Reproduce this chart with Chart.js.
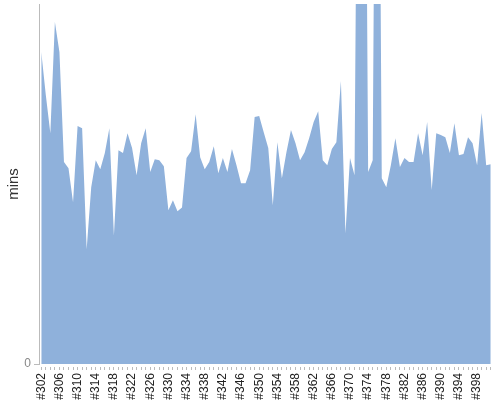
<!DOCTYPE html>
<html lang="en">
<head>
  <meta charset="UTF-8">
  <title>mins per build</title>
  <script src="https://cdn.jsdelivr.net/npm/chart.js"></script>
  <style>
    body { margin: 0; background: #fff; }
    #wrap { width: 500px; height: 400px; }
  </style>
</head>
<body>
  <div id="wrap"><canvas id="minsChart"></canvas></div>

  <script>
    // build numbers on the x axis
    const builds = [
      '#302','#303','#304','#305','#306','#307','#308','#309','#310','#311',
      '#312','#313','#314','#315','#316','#317','#318','#319','#320','#321',
      '#322','#323','#324','#325','#326','#327','#328','#329','#330','#331',
      '#332','#333','#334','#335','#336','#337','#338','#339','#340','#341',
      '#342','#343','#344','#345','#346','#347','#348','#349','#350','#351',
      '#352','#353','#354','#355','#356','#357','#358','#359','#360','#361',
      '#362','#363','#364','#365','#366','#367','#368','#369','#370','#371',
      '#372','#373','#374','#375','#376','#377','#378','#379','#380','#381',
      '#382','#383','#384','#385','#386','#387','#388','#389','#390','#391',
      '#392','#393','#394','#395','#396','#397','#398','#399','#400','#401'
    ];

    // duration of each build (axis tops out at yMax)
    const mins = [
      86.7, 74.7, 64.1, 95.0, 86.7, 56.1, 54.4, 44.9, 66.1, 65.5,
      31.9, 49.1, 56.6, 54.1, 58.6, 65.5, 35.7, 59.4, 58.6, 64.1,
      60.0, 52.4, 61.3, 65.5, 53.3, 56.9, 56.6, 54.9, 42.7, 45.5,
      42.4, 43.5, 57.2, 59.1, 69.4, 57.4, 54.1, 56.1, 60.5, 53.0,
      57.2, 53.3, 59.7, 55.2, 50.2, 50.2, 53.8, 68.6, 68.9, 64.4,
      60.0, 44.1, 61.6, 51.6, 58.8, 65.0, 61.3, 56.6, 58.8, 62.7,
      67.2, 70.2, 56.6, 55.2, 59.7, 61.6, 78.6, 36.3, 57.2, 52.4,
      229, 248.6, 53.3, 56.6, 251.4, 51.6, 49.1, 55.2, 62.7, 54.7,
      57.2, 56.1, 56.1, 64.1, 58.0, 67.2, 48.3, 64.1, 63.6, 63.0,
      58.6, 66.9, 58.0, 58.3, 63.0, 61.3, 55.2, 69.7, 55.2, 55.5
    ];

    const yTicks = [0];
    const yMax = 100;
    const labelEvery = 4;

    const ctx = document.getElementById('minsChart').getContext('2d');
    new Chart(ctx, {
      type: 'line',
      data: {
        labels: builds,
        datasets: [{
          data: mins,
          fill: 'origin',
          backgroundColor: '#8fb1db',
          borderColor: 'rgba(0,0,0,0)',
          borderWidth: 0,
          pointRadius: 0,
          tension: 0
        }]
      },
      options: {
        responsive: true,
        maintainAspectRatio: false,
        animation: false,
        layout: { padding: { top: 4, right: 7, bottom: 0, left: 0 } },
        plugins: {
          legend: { display: false },
          tooltip: { enabled: false }
        },
        scales: {
          x: {
            offset: true,
            afterFit: (s) => {
              s.height = 36;
              s.paddingLeft = 0;
              s.paddingRight = 0;
            },
            border: { display: false },
            grid: {
              offset: false,
              drawOnChartArea: false,
              color: '#bbb',
              tickLength: 6,
              tickBorderDash: [3, 3],
              tickBorderDashOffset: 3
            },
            ticks: {
              autoSkip: false,
              minRotation: 90,
              maxRotation: 90,
              padding: 3,
              color: '#222',
              font: { family: 'Liberation Sans, Arial', size: 12 },
              callback: function (val, i) {
                return i % labelEvery === 0 ? this.getLabelForValue(val) : '';
              }
            }
          },
          y: {
            min: 0,
            max: yMax,
            afterFit: (s) => {
              s.width = 39;
              s.paddingTop = 0;
              s.paddingBottom = 0;
            },
            afterBuildTicks: (s) => { s.ticks = yTicks.map(v => ({ value: v })); },
            border: { display: true, color: '#bbb' },
            grid: {
              drawOnChartArea: false,
              color: '#bbb',
              tickLength: 5
            },
            ticks: {
              padding: 3,
              color: '#888',
              font: { family: 'Liberation Sans, Arial', size: 12 }
            },
            title: {
              display: true,
              text: 'mins',
              color: '#333',
              padding: { top: 5, bottom: 4 },
              font: { family: 'Liberation Sans, Arial', size: 15 }
            }
          }
        }
      }
    });
  </script>
</body>
</html>
